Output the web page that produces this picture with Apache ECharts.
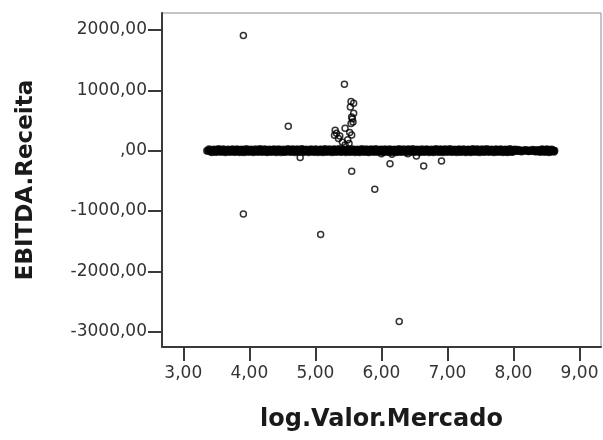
<!DOCTYPE html>
<html>
<head>
<meta charset="utf-8">
<script src="https://cdn.jsdelivr.net/npm/echarts@6/dist/echarts.min.js"></script>
<style>html,body{margin:0;padding:0;background:#fff;}#c{width:603px;height:440px;}</style>
</head>
<body>
<div id="c"></div>
<script>
var xTicks = [3, 4, 5, 6, 7, 8, 9];
var yTicks = [-3000, -2000, -1000, 0, 1000, 2000];
var xName = 'log.Valor.Mercado';
var yName = 'EBITDA.Receita';

// dense band of observations near zero (first set)
var bandPoints = [
[3.36,0],[3.40,4],[3.42,-6],[3.45,2],[3.47,-3],[3.49,8],[3.52,-10],[3.54,0],[3.56,5],[3.59,-4],
[3.61,3],[3.63,-12],[3.66,6],[3.68,0],[3.70,-5],[3.73,10],[3.75,-2],[3.77,4],[3.80,-8],[3.82,1],
[3.84,12],[3.87,-3],[3.89,-15],[3.91,5],[3.94,0],[3.96,-6],[3.98,9],[4.01,-2],[4.03,3],[4.05,-11],
[4.08,7],[4.10,0],[4.12,-4],[4.15,14],[4.17,-7],[4.19,2],[4.22,-1],[4.24,6],[4.26,-13],[4.29,4],
[4.31,-2],[4.33,10],[4.36,-5],[4.38,1],[4.40,-9],[4.43,3],[4.45,12],[4.47,-4],[4.50,0],[4.52,-16],
[4.54,5],[4.57,-3],[4.59,8],[4.61,-7],[4.64,2],[4.66,15],[4.68,-10],[4.71,0],[4.73,6],[4.75,-5],
[4.78,3],[4.80,-12],[4.82,9],[4.85,-1],[4.87,4],[4.89,-8],[4.92,11],[4.94,-3],[4.96,0],[4.99,-14],
[5.01,7],[5.03,-4],[5.06,2],[5.08,16],[5.10,-9],[5.13,1],[5.15,-6],[5.17,10],[5.20,-2],[5.22,5],
[5.24,-11],[5.27,3],[5.29,14],[5.31,-5],[5.34,0],[5.36,8],[5.38,-15],[5.41,4],[5.43,-3],[5.45,12],
[5.48,-7],[5.50,1],[5.52,18],[5.55,-10],[5.57,6],[5.59,-2],[5.62,9],[5.64,-13],[5.66,3],[5.69,-4],
[5.71,11],[5.73,-8],[5.76,0],[5.78,5],[5.80,-16],[5.83,7],[5.85,-1],[5.87,13],[5.90,-6],[5.92,2],
[5.94,-10],[5.97,8],[5.99,-3],[6.01,15],[6.04,-12],[6.06,4],[6.08,-5],[6.11,10],[6.13,-18],[6.15,1],
[6.18,6],[6.20,-9],[6.22,12],[6.25,-2],[6.27,3],[6.29,-14],[6.32,9],[6.34,-4],[6.36,0],[6.39,-11],
[6.41,14],[6.43,-6],[6.46,2],[6.48,-15],[6.50,7],[6.53,-3],[6.55,10],[6.57,-8],[6.60,4],[6.62,-12],
[6.64,1],[6.67,9],[6.69,-5],[6.71,13],[6.74,-10],[6.76,3],[6.78,-2],[6.81,11],[6.83,-7],[6.85,0],
[6.88,-14],[6.90,6],[6.92,-3],[6.95,15],[6.97,-9],[6.99,2],[7.02,-4],[7.04,8],[7.06,-12],[7.09,5],
[7.11,-1],[7.13,12],[7.16,-6],[7.18,3],[7.20,-10],[7.23,9],[7.25,0],[7.27,-15],[7.30,7],[7.32,-3],
[7.34,11],[7.37,-8],[7.39,2],[7.41,-5],[7.44,14],[7.46,-11],[7.48,4],[7.51,-2],[7.53,9],[7.55,-13],
[7.58,1],[7.60,6],[7.62,-7],[7.65,12],[7.67,-4],[7.69,0],[7.72,-10],[7.74,8],[7.76,-2],[7.79,13],
[7.81,-9],[7.83,3],[7.86,-5],[7.88,10],[7.90,-14],[7.93,5],[7.95,-1],[7.97,7],[8.00,-8],[8.03,2],
[8.06,-3],[8.10,4],[8.13,-2],[8.17,3],[8.21,-4],[8.24,1],[8.28,-1],[8.31,5],[8.34,-6],[8.36,9],
[8.38,-3],[8.41,11],[8.43,-10],[8.45,2],[8.48,-5],[8.50,7],[8.52,-12],[8.55,4],[8.57,-1],[8.59,6],[8.62,0]
];

// dense band of observations near zero (second set)
var bandPoints2 = [
[3.38,-3],[3.41,6],[3.435,-8],[3.46,3],[3.48,-12],[3.505,5],[3.53,10],[3.55,-4],[3.575,0],[3.60,8],
[3.62,-6],[3.645,2],[3.67,-10],[3.69,9],[3.715,-1],[3.74,4],[3.76,-13],[3.785,6],[3.81,0],[3.83,-7],
[3.855,3],[3.88,11],[3.90,-4],[3.925,1],[3.95,-9],[3.97,7],[3.995,-2],[4.02,13],[4.04,-5],[4.065,0],
[4.09,-8],[4.11,5],[4.135,-1],[4.16,9],[4.18,-12],[4.205,4],[4.23,-6],[4.25,11],[4.275,-3],[4.30,2],
[4.32,-14],[4.345,6],[4.37,0],[4.39,12],[4.415,-7],[4.44,3],[4.46,-2],[4.485,8],[4.51,-10],[4.53,1],
[4.555,-5],[4.58,10],[4.60,-1],[4.625,4],[4.65,-13],[4.67,7],[4.695,-3],[4.72,12],[4.74,-8],[4.765,2],
[4.79,-4],[4.81,14],[4.835,-11],[4.86,5],[4.88,0],[4.905,-6],[4.93,9],[4.95,-2],[4.975,3],[5.00,-9],
[5.02,12],[5.045,-1],[5.07,-7],[5.09,4],[5.115,10],[5.14,-12],[5.16,2],[5.185,-4],[5.21,8],[5.23,-6],
[5.255,0],[5.28,-13],[5.30,6],[5.325,11],[5.35,-3],[5.37,2],[5.395,-9],[5.42,14],[5.44,-5],[5.465,1],
[5.49,7],[5.51,-12],[5.535,4],[5.56,-1],[5.58,10],[5.605,-7],[5.63,3],[5.65,12],[5.675,-9],[5.70,0],
[5.72,-3],[5.745,8],[5.77,-11],[5.79,2],[5.815,13],[5.84,-5],[5.86,0],[5.885,9],[5.91,-14],[5.93,4],
[5.955,6],[5.98,-2],[6.00,11],[6.025,-7],[6.05,1],[6.07,-10],[6.095,5],[6.12,13],[6.14,-3],[6.165,-8],
[6.19,2],[6.21,9],[6.235,-12],[6.26,6],[6.28,-1],[6.305,11],[6.33,-6],[6.35,3],[6.375,-9],[6.40,7],
[6.42,-2],[6.445,10],[6.47,-11],[6.49,4],[6.515,0],[6.54,-7],[6.56,13],[6.585,-4],[6.61,6],[6.63,-1],
[6.655,-9],[6.68,3],[6.70,12],[6.725,-5],[6.75,7],[6.77,-13],[6.795,1],[6.82,9],[6.84,-3],[6.865,5],
[6.89,10],[6.91,-8],[6.935,0],[6.96,-11],[6.98,6],[7.005,12],[7.03,-6],[7.05,2],[7.075,-1],[7.10,-9],
[7.12,4],[7.145,-3],[7.17,11],[7.19,-12],[7.215,5],[7.24,-2],[7.26,8],[7.285,-6],[7.31,13],[7.33,0],
[7.355,-9],[7.38,5],[7.40,10],[7.425,-4],[7.45,1],[7.47,-13],[7.495,7],[7.52,-7],[7.54,3],[7.565,11],
[7.59,-5],[7.61,-11],[7.635,4],[7.66,9],[7.68,-2],[7.705,6],[7.73,-12],[7.75,1],[7.775,10],[7.80,-4],
[7.82,7],[7.845,-10],[7.87,2],[7.89,12],[7.915,-6],[7.94,0],[7.96,-13],[7.985,8],[8.015,-3],[8.045,5],
[8.08,-1],[8.15,2],[8.26,-2],[8.325,3],
[8.35,-9],[8.37,6],[8.395,-4],[8.42,1],[8.44,12],[8.465,-7],[8.49,3],[8.51,-2],[8.535,9],[8.56,-10],[8.58,5],[8.605,-3]
];

// observations at the edges of the band (third set)
var bandPoints3 = [
[3.39,22],[3.43,-25],[3.465,20],[3.50,-22],[3.535,26],[3.57,-20],[3.605,24],[3.64,-27],[3.675,21],[3.71,-23],
[3.745,25],[3.78,-21],[3.815,23],[3.85,-26],[3.885,20],[3.92,-24],[3.955,27],[3.99,-22],[4.025,21],[4.06,-25],
[4.095,24],[4.13,-20],[4.165,26],[4.20,-23],[4.235,22],[4.27,-27],[4.305,20],[4.34,-21],[4.375,25],[4.41,-24],
[4.445,23],[4.48,-26],[4.515,21],[4.55,-22],[4.585,27],[4.62,-20],[4.655,24],[4.69,-25],[4.725,22],[4.76,-23],
[4.795,26],[4.83,-21],[4.865,20],[4.90,-27],[4.935,25],[4.97,-22],[5.005,23],[5.04,-24],[5.075,21],[5.11,-26],
[5.145,27],[5.18,-20],[5.215,22],[5.25,-25],[5.285,24],[5.32,-23],[5.355,26],[5.39,-21],[5.425,20],[5.46,-27],
[5.495,25],[5.53,-22],[5.565,23],[5.60,-24],[5.635,21],[5.67,-26],[5.705,27],[5.74,-20],[5.775,22],[5.81,-25],
[5.845,24],[5.88,-23],[5.915,26],[5.95,-21],[5.985,20],[6.02,-27],[6.055,25],[6.09,-22],[6.125,23],[6.16,-24],
[6.195,21],[6.23,-26],[6.265,27],[6.30,-20],[6.335,22],[6.37,-25],[6.405,24],[6.44,-23],[6.475,26],[6.51,-21],
[6.545,20],[6.58,-27],[6.615,25],[6.65,-22],[6.685,23],[6.72,-24],[6.755,21],[6.79,-26],[6.825,27],[6.86,-20],
[6.895,22],[6.93,-25],[6.965,24],[7.00,-23],[7.035,26],[7.07,-21],[7.105,20],[7.14,-27],[7.175,25],[7.21,-22],
[7.245,23],[7.28,-24],[7.315,21],[7.35,-26],[7.385,27],[7.42,-20],[7.455,22],[7.49,-25],[7.525,24],[7.56,-23],
[7.595,26],[7.63,-21],[7.665,20],[7.70,-27],[7.735,25],[7.77,-22],[7.805,23],[7.84,-24],[7.875,21],[7.91,-26],
[7.945,27],[7.98,-20],[8.02,18],[8.07,15],[8.12,-14],[8.19,12],[8.23,-10],[8.29,14],[8.33,-12],
[8.40,-22],[8.435,24],[8.47,-20],[8.505,23],[8.54,-25],[8.575,21],[8.61,-18]
];

// observations away from zero
var outlierPoints = [
[3.91,1910],[4.59,405],[3.91,-1050],[4.77,-115],[5.44,1100],
[5.54,815],[5.58,785],[5.53,725],[5.58,620],[5.55,560],[5.57,475],[5.54,450],[5.56,530],
[5.30,340],[5.32,290],[5.37,245],[5.45,370],[5.52,300],[5.55,260],[5.49,180],[5.45,95],
[5.35,200],[5.41,140],[5.51,120],[5.29,255],
[5.55,-340],[5.90,-640],[6.00,-50],[6.13,-215],[6.16,-60],[6.40,-50],[6.53,-90],
[6.64,-255],[6.91,-170],[5.08,-1390],[6.27,-2830]
];

function fmt(v) {
  var s = Number(v).toFixed(2).replace('.', ',');
  if (s === '0,00') s = ',00';
  return s;
}

var chart = echarts.init(document.getElementById('c'), null, {renderer: 'canvas'});
var font = 'DejaVu Sans';
var markStyle = {color: 'rgba(0,0,0,0)', borderColor: '#000', borderWidth: 1.5};
var bandStyle = {color: 'rgba(0,0,0,0)', borderColor: '#000', borderWidth: 2};
chart.setOption({
  animation: false,
  backgroundColor: '#ffffff',
  grid: {left: 162, right: 2, top: 13, bottom: 93, show: true, borderColor: '#8a8a8a', borderWidth: 1, backgroundColor: 'transparent'},
  xAxis: {
    type: 'value', min: 2.678, max: 9.325,
    name: xName, nameLocation: 'middle', nameGap: 61,
    nameTextStyle: {fontFamily: font, fontWeight: 'bold', fontSize: 24, color: '#1a1a1a'},
    axisLine: {show: true, onZero: false, lineStyle: {color: '#3a3a3a', width: 2}},
    axisTick: {show: true, length: 14, customValues: xTicks, lineStyle: {color: '#3a3a3a', width: 2}},
    axisLabel: {customValues: xTicks, formatter: fmt, margin: 18, fontFamily: font, fontSize: 17, color: '#333'},
    splitLine: {show: false}
  },
  yAxis: {
    type: 'value', min: -3254, max: 2282,
    name: yName, nameLocation: 'middle', nameGap: 124, nameRotate: 90,
    nameTextStyle: {fontFamily: font, fontWeight: 'bold', fontSize: 23, color: '#1a1a1a'},
    axisLine: {show: true, onZero: false, lineStyle: {color: '#3a3a3a', width: 2}},
    axisTick: {show: true, length: 14, customValues: yTicks, lineStyle: {color: '#3a3a3a', width: 2}},
    axisLabel: {customValues: yTicks, formatter: fmt, margin: 15, fontFamily: font, fontSize: 17, color: '#333'},
    splitLine: {show: false}
  },
  series: [
    {type: 'scatter', data: bandPoints, symbol: 'circle', symbolSize: 6, itemStyle: bandStyle},
    {type: 'scatter', data: bandPoints2, symbol: 'circle', symbolSize: 6, itemStyle: bandStyle},
    {type: 'scatter', data: bandPoints3, symbol: 'circle', symbolSize: 6, itemStyle: bandStyle},
    {type: 'scatter', data: outlierPoints, symbol: 'circle', symbolSize: 6, itemStyle: markStyle}
  ]
});
</script>
</body>
</html>
